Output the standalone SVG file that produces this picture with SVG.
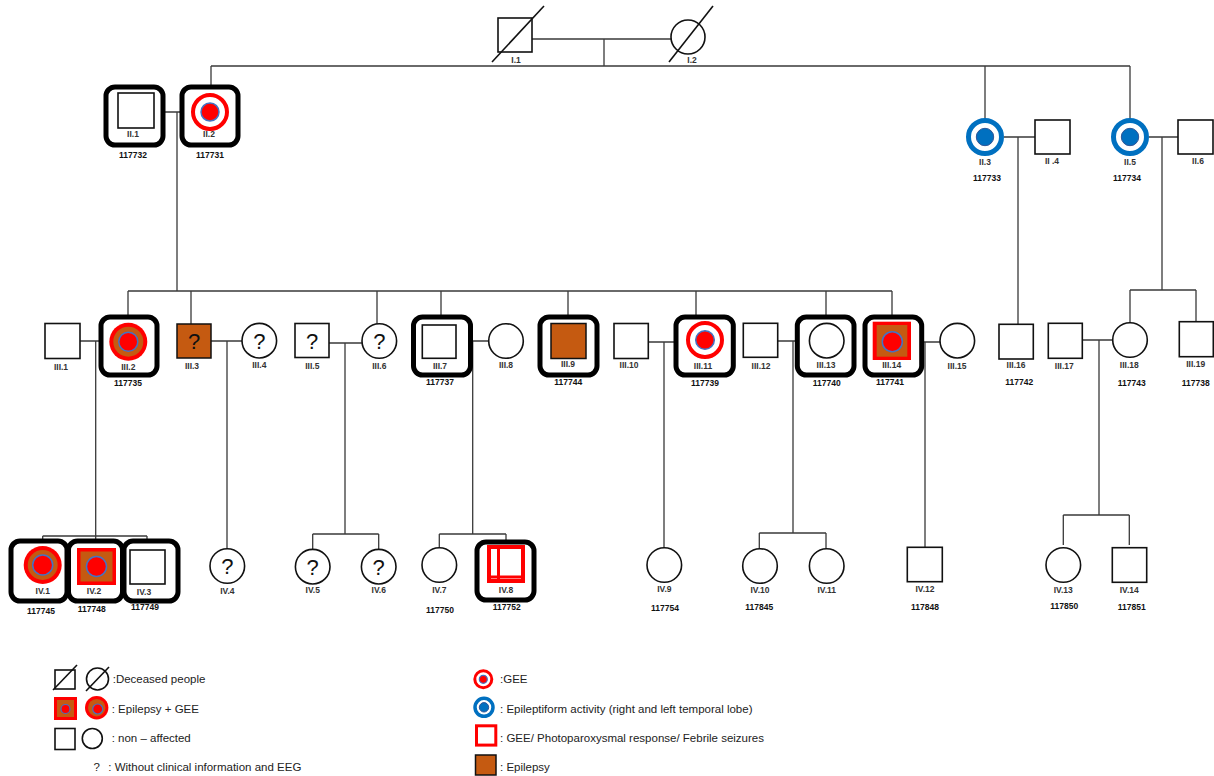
<svg xmlns="http://www.w3.org/2000/svg" width="1214" height="776" viewBox="0 0 1214 776">
<style>
.bg{fill:#fff}
.ln{stroke:#3a3a3a;stroke-width:1.3;fill:none}
.dc{stroke:#111;stroke-width:1.6;fill:none}
.sq{fill:#fff;stroke:#111;stroke-width:1.6}
.ci{fill:#fff;stroke:#111;stroke-width:1.6}
.fr{fill:#fff;stroke:#000;stroke-width:5}
.br{fill:#C55A11;stroke:#111;stroke-width:1.5}
.brn{fill:#C55A11}
.red{fill:#FF0000}
.rring{fill:#fff;stroke:#FF0000;stroke-width:4}
.bring{fill:#fff;stroke:#0070C0;stroke-width:5}
.rdot{fill:#FF0000;stroke:#4472C4;stroke-width:1.5}
.bdot{fill:#0070C0;stroke:#2F5597;stroke-width:1}
.rsq{fill:#fff;stroke:#FF0000;stroke-width:4}
.rbar{stroke:#FF0000;stroke-width:3}
.lb{font-family:"Liberation Sans",Arial,sans-serif;font-size:8.5px;font-weight:bold;fill:#333;text-anchor:middle}
.id{font-family:"Liberation Sans",Arial,sans-serif;font-size:8.5px;font-weight:bold;fill:#111;text-anchor:middle}
.q{font-family:"Liberation Sans",Arial,sans-serif;font-size:22px;fill:#111;text-anchor:middle}
.lg{font-family:"Liberation Sans",Arial,sans-serif;font-size:11.5px;fill:#222}
</style>
<rect class="bg" x="0" y="0" width="1214" height="776"/>

<g id="connectors">
<path class="ln" d="M532 39H671M604 39V66M211 66H1130M211 66V94M985 66V119M1130 66V119"/>
<path class="ln" d="M154 112H192M177 112V291"/>
<path class="ln" d="M1004 137H1035M1018 137V324"/>
<path class="ln" d="M1149 137H1178M1162 137V290"/>
<path class="ln" d="M128 291H892M128 291V323M191 291V324M377 291V324M441 291V325M568 291V324M696 291V321M826 291V323M892 291V322"/>
<path class="ln" d="M1130 290H1196M1130 290V323M1196 290V322"/>
<path class="ln" d="M80 341H110M95.7 341V536"/>
<path class="ln" d="M211 341H242M227 341V549"/>
<path class="ln" d="M329 343H362M345 343V534"/>
<path class="ln" d="M456 341H489M472.7 341V534"/>
<path class="ln" d="M648 342H686M664 342V548"/>
<path class="ln" d="M778 341H809M793 341V533"/>
<path class="ln" d="M911 342H940M925 342V547"/>
<path class="ln" d="M1082 340H1113M1099 340V515"/>
<path class="ln" d="M42.7 536H147M42.7 536V546M95.7 536V548M147 536V550"/>
<path class="ln" d="M312.7 534H378.7M312.7 534V549M378.7 534V549"/>
<path class="ln" d="M439.3 534H506M439.3 534V548M506 534V546"/>
<path class="ln" d="M759.3 533H826M759.3 533V549M826 533V549"/>
<path class="ln" d="M1063.3 515H1129.3M1063.3 515V545M1129.3 515V545"/>
</g>

<g id="I1"><rect class="sq" x="498" y="18" width="34" height="34"/><line class="dc" x1="492" y1="62" x2="544" y2="6"/><text class="lb" x="516" y="63">I.1</text></g>
<g id="I2"><circle class="ci" cx="688" cy="37" r="17"/><line class="dc" x1="669" y1="62" x2="713" y2="6"/><text class="lb" x="692" y="63">I.2</text></g>

<g id="II1"><rect class="fr" x="106" y="87" width="57" height="58" rx="9"/><rect class="sq" x="118" y="93" width="36" height="35"/><text class="lb" x="133" y="137">II.1</text><text class="id" x="133" y="158">117732</text></g>
<g id="II2"><rect class="fr" x="182" y="87" width="56" height="58" rx="9"/><circle class="rring" cx="210" cy="112" r="17"/><circle class="rdot" cx="210" cy="112" r="9"/><text class="lb" x="209" y="137">II.2</text><text class="id" x="210" y="158">117731</text></g>
<g id="II3"><circle class="bring" cx="985" cy="137" r="16.5"/><circle class="bdot" cx="985" cy="137" r="8.7"/><text class="lb" x="985" y="165">II.3</text><text class="id" x="987" y="181">117733</text></g>
<g id="II4"><rect class="sq" x="1035" y="120" width="35" height="34"/><text class="lb" x="1052" y="164">II .4</text></g>
<g id="II5"><circle class="bring" cx="1130" cy="137" r="16.5"/><circle class="bdot" cx="1130" cy="137" r="8.7"/><text class="lb" x="1130" y="165">II.5</text><text class="id" x="1127" y="181">117734</text></g>
<g id="II6"><rect class="sq" x="1178" y="120" width="35" height="34"/><text class="lb" x="1198" y="164">II.6</text></g>

<g id="III1"><rect class="sq" x="45" y="323.5" width="35" height="35"/><text class="lb" x="61" y="369.5">III.1</text></g>
<g id="III2"><rect class="fr" x="101" y="317" width="56" height="58" rx="9"/><circle class="red" cx="128.3" cy="341.7" r="19"/><circle class="brn" cx="128.3" cy="341.7" r="15"/><circle class="rdot" cx="128.3" cy="341.7" r="9.5"/><text class="lb" x="128.3" y="369.5">III.2</text><text class="id" x="128" y="386">117735</text></g>
<g id="III3"><rect class="br" x="177" y="324" width="34" height="34"/><text class="q" x="194" y="349">?</text><text class="lb" x="192" y="369">III.3</text></g>
<g id="III4"><circle class="ci" cx="259.3" cy="340.7" r="17.3"/><text class="q" x="259.3" y="349">?</text><text class="lb" x="259.3" y="368">III.4</text></g>
<g id="III5"><rect class="sq" x="295" y="323.5" width="34" height="34"/><text class="q" x="312" y="349">?</text><text class="lb" x="312.3" y="369">III.5</text></g>
<g id="III6"><circle class="ci" cx="379.3" cy="341" r="17.3"/><text class="q" x="379.3" y="349">?</text><text class="lb" x="379.3" y="369">III.6</text></g>
<g id="III7"><rect class="fr" x="413.5" y="317" width="57" height="58" rx="9"/><rect class="sq" x="422.3" y="325" width="33.7" height="33.3"/><text class="lb" x="440" y="369">III.7</text><text class="id" x="440" y="385">117737</text></g>
<g id="III8"><circle class="ci" cx="506" cy="341" r="17.3"/><text class="lb" x="506" y="368">III.8</text></g>
<g id="III9"><rect class="fr" x="540" y="317" width="57" height="58" rx="9"/><rect class="br" x="551" y="323.5" width="35" height="35"/><text class="lb" x="568" y="367">III.9</text><text class="id" x="568.3" y="385">117744</text></g>
<g id="III10"><rect class="sq" x="614" y="323.5" width="34.3" height="35"/><text class="lb" x="629" y="368">III.10</text></g>
<g id="III11"><rect class="fr" x="676" y="317" width="57.3" height="58" rx="9"/><circle class="rring" cx="705" cy="340" r="17"/><circle class="rdot" cx="705" cy="340" r="9.3"/><text class="lb" x="703" y="369">III.11</text><text class="id" x="705" y="386">117739</text></g>
<g id="III12"><rect class="sq" x="743.3" y="323.3" width="34.4" height="34"/><text class="lb" x="761" y="369">III.12</text></g>
<g id="III13"><rect class="fr" x="797.3" y="317" width="56.7" height="58" rx="9"/><circle class="ci" cx="826.7" cy="340.7" r="17.3"/><text class="lb" x="826" y="368">III.13</text><text class="id" x="826.7" y="386">117740</text></g>
<g id="III14"><rect class="fr" x="865" y="317" width="56.7" height="58" rx="9"/><rect class="red" x="872.7" y="321.7" width="38.3" height="38.3"/><rect class="brn" x="876.7" y="325" width="30.6" height="31.7"/><circle class="rdot" cx="892.3" cy="341.7" r="10"/><text class="lb" x="891.7" y="368">III.14</text><text class="id" x="890" y="385">117741</text></g>
<g id="III15"><circle class="ci" cx="957.3" cy="340.7" r="17.3"/><text class="lb" x="957" y="369">III.15</text></g>
<g id="III16"><rect class="sq" x="999" y="324.3" width="34.3" height="34.7"/><text class="lb" x="1016" y="368">III.16</text><text class="id" x="1019.3" y="385">117742</text></g>
<g id="III17"><rect class="sq" x="1048.3" y="323.3" width="34" height="35"/><text class="lb" x="1064.3" y="369">III.17</text></g>
<g id="III18"><circle class="ci" cx="1130" cy="340" r="17.3"/><text class="lb" x="1129.3" y="368">III.18</text><text class="id" x="1131.7" y="386">117743</text></g>
<g id="III19"><rect class="sq" x="1179.3" y="321.7" width="34" height="35"/><text class="lb" x="1195.7" y="367">III.19</text><text class="id" x="1195.7" y="386">117738</text></g>

<g id="IV1"><rect class="fr" x="11" y="541" width="56" height="60" rx="9"/><circle class="red" cx="42.7" cy="565" r="19"/><circle class="brn" cx="42.7" cy="565" r="15"/><circle class="rdot" cx="42.7" cy="565" r="10"/><text class="lb" x="42.7" y="594">IV.1</text><text class="id" x="41" y="614">117745</text></g>
<g id="IV2"><rect class="fr" x="68.5" y="541" width="54" height="60" rx="9"/><rect class="red" x="77" y="548" width="39" height="37"/><rect class="brn" x="80.5" y="551.5" width="32" height="30"/><circle class="rdot" cx="96.5" cy="566.5" r="10"/><text class="lb" x="94" y="594">IV.2</text><text class="id" x="91.7" y="612">117748</text></g>
<g id="IV3"><rect class="fr" x="124" y="541" width="54" height="60" rx="9"/><rect class="sq" x="130" y="550" width="35" height="34"/><text class="lb" x="144" y="595">IV.3</text><text class="id" x="145" y="610">117749</text></g>
<g id="IV4"><circle class="ci" cx="227.3" cy="566" r="17.3"/><text class="q" x="227.3" y="574">?</text><text class="lb" x="227.3" y="594">IV.4</text></g>
<g id="IV5"><circle class="ci" cx="312.7" cy="566.7" r="17.3"/><text class="q" x="312.7" y="575">?</text><text class="lb" x="312.7" y="593">IV.5</text></g>
<g id="IV6"><circle class="ci" cx="378.7" cy="566.7" r="17.3"/><text class="q" x="378.7" y="575">?</text><text class="lb" x="378.7" y="593">IV.6</text></g>
<g id="IV7"><circle class="ci" cx="439.3" cy="565" r="17.3"/><text class="lb" x="439.3" y="593">IV.7</text><text class="id" x="440" y="613">117750</text></g>
<g id="IV8"><rect class="fr" x="477" y="542" width="57" height="58" rx="9"/><rect class="rsq" x="489" y="547" width="34" height="34"/><line class="rbar" x1="498.5" y1="547" x2="498.5" y2="581"/><line class="rbar" x1="489" y1="577" x2="523" y2="577"/><text class="lb" x="506" y="593">IV.8</text><text class="id" x="506.7" y="610">117752</text></g>
<g id="IV9"><circle class="ci" cx="664.3" cy="565" r="17.3"/><text class="lb" x="664.3" y="592">IV.9</text><text class="id" x="665" y="611">117754</text></g>
<g id="IV10"><circle class="ci" cx="760" cy="566" r="17.3"/><text class="lb" x="760" y="593">IV.10</text><text class="id" x="759.3" y="610">117845</text></g>
<g id="IV11"><circle class="ci" cx="826.7" cy="566" r="17.3"/><text class="lb" x="826.7" y="593">IV.11</text></g>
<g id="IV12"><rect class="sq" x="907.3" y="547.3" width="35" height="34.4"/><text class="lb" x="925" y="592">IV.12</text><text class="id" x="925" y="610">117848</text></g>
<g id="IV13"><circle class="ci" cx="1063.3" cy="565" r="17.3"/><text class="lb" x="1063.3" y="593">IV.13</text><text class="id" x="1064.3" y="609">117850</text></g>
<g id="IV14"><rect class="sq" x="1112.3" y="547.7" width="34.4" height="34.6"/><text class="lb" x="1129.3" y="593">IV.14</text><text class="id" x="1131.7" y="610">117851</text></g>

<g id="legend">
<rect class="sq" x="55" y="670" width="20" height="19"/><line class="dc" x1="53" y1="690" x2="77" y2="665"/>
<circle class="ci" cx="97.5" cy="679" r="11"/><line class="dc" x1="86" y1="691" x2="109" y2="667"/>
<text class="lg" x="112.7" y="683">:Deceased people</text>
<rect class="red" x="54" y="697" width="23" height="23"/><rect class="brn" x="57" y="700" width="17" height="17"/><circle class="rdot" cx="65.5" cy="709" r="4.5" style="stroke-width:1.2"/>
<circle class="red" cx="96.7" cy="707.7" r="11.7"/><circle class="brn" cx="96.7" cy="707.7" r="8.7"/><circle class="rdot" cx="97.7" cy="709" r="5" style="stroke-width:1.2"/>
<text class="lg" x="111.7" y="713">: Epilepsy + GEE</text>
<rect class="sq" x="55" y="728.5" width="20" height="21"/><circle class="ci" cx="92.3" cy="738.5" r="10"/>
<text class="lg" x="111.7" y="742">: non – affected</text>
<text class="lg" x="93.5" y="771">?</text><text class="lg" x="108.3" y="771">: Without clinical information and EEG</text>
<circle class="rring" cx="483.3" cy="679.3" r="8.5" style="stroke-width:3"/><circle class="rdot" cx="483.3" cy="679.3" r="4" style="stroke-width:1.2"/>
<text class="lg" x="500" y="683">:GEE</text>
<circle class="bring" cx="484" cy="707.3" r="9" style="stroke-width:3.5"/><circle class="bdot" cx="484" cy="707.3" r="4.7"/>
<text class="lg" x="500" y="713">: Epileptiform activity (right and left temporal lobe)</text>
<rect class="rsq" x="476.5" y="725.8" width="19.3" height="19.3" style="stroke-width:3"/>
<text class="lg" x="500" y="742">: GEE/ Photoparoxysmal response/ Febrile seizures</text>
<rect class="br" x="475.5" y="755" width="20.5" height="20"/>
<text class="lg" x="500" y="771">: Epilepsy</text>
</g>
</svg>
